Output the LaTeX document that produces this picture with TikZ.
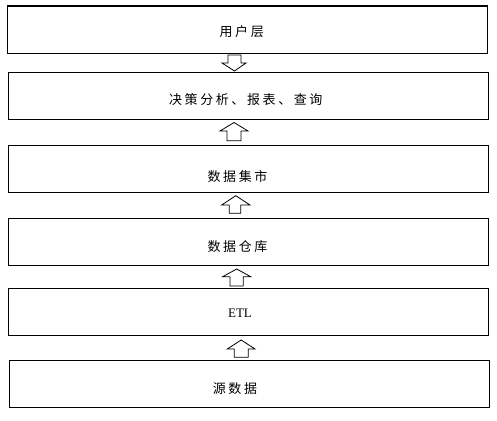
\documentclass[tikz,border=0pt]{standalone}
\usepackage{fontspec}
\setmainfont{Liberation Serif}
\newfontfamily\cjk[LetterSpace=20]{Noto Sans CJK SC}
\begin{document}
\begin{tikzpicture}[x=1pt,y=-1pt,
  box/.style={draw=black,line width=1.1pt,minimum width=480.5pt,inner sep=0pt},
  lbl/.style={font=\cjk\fontsize{13}{13}\selectfont,inner sep=0pt},
  blk/.style={draw=black,line width=0.8pt,fill=white,line join=miter}]
\useasboundingbox (0,0) rectangle (497,420);
\node[box,minimum height=47.3pt] (b1) at (247.5,29.7) {};
\node[box,minimum height=46.6pt] (b2) at (248.3,96) {};
\node[box,minimum height=47pt] (b3) at (248.5,168.8) {};
\node[box,minimum height=47pt] (b4) at (248.5,241.8) {};
\node[box,minimum height=47pt] (b5) at (248.5,311.8) {};
\node[box,minimum height=47.3pt] (b6) at (249.3,383.7) {};
\node[lbl] (t1) at (241.7,31.5) {用户层};
\node[lbl] (t2) at (245.8,100) {决策分析、报表、查询};
\node[lbl] (t3) at (237.5,176.5) {数据集市};
\node[lbl] (t4) at (237.5,246.5) {数据仓库};
\node[inner sep=0pt,font=\fontsize{13}{13}\selectfont] (t5) at (240,313.5) {ETL};
\node[lbl] (t6) at (235,388.5) {源数据};
% block arrows
\draw[blk] (228,55) -- (241,55) -- (241,63) -- (246,63) -- (234.5,71) -- (222,63) -- (228,63) -- cycle;
\draw[blk] (227,140.7) -- (241,140.7) -- (241,131) -- (248,131) -- (234,122.5) -- (220,131) -- (227,131) -- cycle;
\draw[blk] (229.3,213.3) -- (240.7,213.3) -- (240.7,205) -- (250,205) -- (235.8,195.7) -- (221.7,205) -- (229.3,205) -- cycle;
\draw[blk] (230,286) -- (243.3,286) -- (243.3,276.7) -- (250.7,276.7) -- (236.7,269) -- (222.7,276.7) -- (230,276.7) -- cycle;
\draw[blk] (234.3,357.3) -- (248.3,357.3) -- (248.3,349) -- (255,349) -- (241.2,340) -- (227.3,349) -- (234.3,349) -- cycle;
\end{tikzpicture}
\end{document}
